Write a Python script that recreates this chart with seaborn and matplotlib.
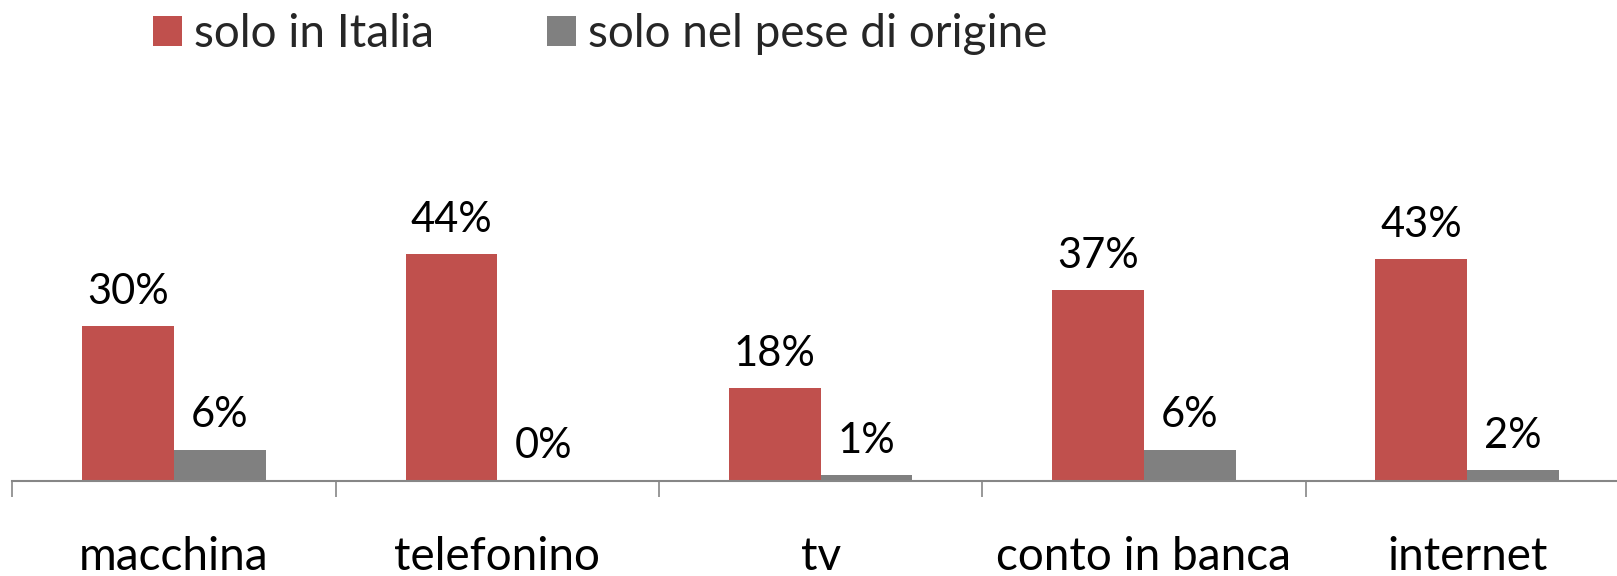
import matplotlib
matplotlib.use("Agg")
import matplotlib.pyplot as plt
import seaborn as sns
import pandas as pd
from matplotlib.ticker import FixedLocator

categories = ["macchina", "telefonino", "tv", "conto in banca", "internet"]
series_names = ["solo in Italia", "solo nel pese di origine"]
italia = [30, 44, 18, 37, 43]
origine = [6, 0, 1, 6, 2]
colors = ["#C0504D", "#808080"]

df = pd.DataFrame({
    "cat": categories * 2,
    "val": italia + origine,
    "serie": [series_names[0]] * len(categories) + [series_names[1]] * len(categories),
})

sns.set_theme(style="white")
plt.rcParams["font.family"] = ["Lato", "DejaVu Sans"]
FS_VAL = 30
FS_TXT = 33

fig = plt.figure(figsize=(16.17, 5.76), dpi=100)
ax = fig.add_axes([12.4 / 1617, 95.4 / 576, 1616.5 / 1617, 257.5 / 576])

sns.barplot(data=df, x="cat", y="val", hue="serie", order=categories,
            hue_order=series_names, palette=colors, width=0.568, gap=0,
            linewidth=0, saturation=1, ax=ax, legend=True)

for cont in ax.containers:
    vals = [int(round(b.get_height())) for b in cont]
    ax.bar_label(cont, labels=[f"{v}%" for v in vals], padding=11,
                 fontsize=FS_VAL, color="black")

ax.set_xlim(-0.5, 4.5)
ax.set_ylim(0, 50)
ax.set_xlabel("")
ax.set_ylabel("")
ax.set_yticks([])
for s in ["left", "right", "top"]:
    ax.spines[s].set_visible(False)
ax.spines["bottom"].set_color("#868686")
ax.spines["bottom"].set_linewidth(1.5)

ax.xaxis.set_minor_locator(FixedLocator([i - 0.5 for i in range(len(categories) + 1)]))
ax.tick_params(axis="x", which="minor", length=11.5, width=1.2, color="#868686", bottom=True)
ax.tick_params(axis="x", which="major", length=0, pad=40, labelsize=FS_TXT, labelcolor="black")

handles, labels = ax.get_legend_handles_labels()
ax.get_legend().remove()
fig.legend(handles, labels, loc="upper left", bbox_to_anchor=(151 / 1617, 1.0 - 11 / 576),
           ncol=2, frameon=False, fontsize=FS_TXT, handlelength=0.62, handleheight=0.62,
           handletextpad=0.26, columnspacing=2.48, borderaxespad=0, borderpad=0.05)

fig.savefig("out.png", dpi=100)
